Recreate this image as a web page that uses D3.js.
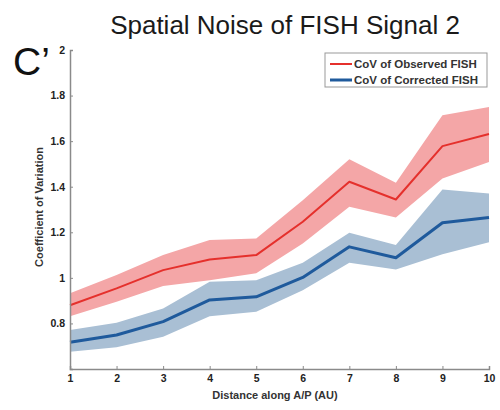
<!DOCTYPE html>
<html>
<head>
<meta charset="utf-8">
<script src="https://cdn.jsdelivr.net/npm/d3@7"></script>
<style>
  html, body { margin: 0; padding: 0; background: #fff; }
  svg { display: block; font-family: "Liberation Sans", Arial, sans-serif; }
</style>
</head>
<body>
<svg id="chart" width="500" height="410"></svg>
<script>
// Distance bins along the A/P axis
const distance = [1, 2, 3, 4, 5, 6, 7, 8, 9, 10];

// Coefficient of variation, observed FISH signal (mean and band limits)
const observedMean  = [0.88, 0.954, 1.034, 1.081, 1.10, 1.246, 1.422, 1.344, 1.578, 1.631];
const observedUpper = [0.932, 1.012, 1.10, 1.166, 1.173, 1.341, 1.521, 1.417, 1.714, 1.75];
const observedLower = [0.832, 0.895, 0.964, 0.99, 1.02, 1.151, 1.312, 1.265, 1.436, 1.509];

// Coefficient of variation, corrected FISH signal (mean and band limits)
const correctedMean  = [0.717, 0.749, 0.808, 0.903, 0.917, 1.002, 1.136, 1.088, 1.242, 1.265];
const correctedUpper = [0.771, 0.803, 0.866, 0.983, 0.99, 1.066, 1.198, 1.144, 1.388, 1.37];
const correctedLower = [0.676, 0.695, 0.742, 0.832, 0.851, 0.946, 1.066, 1.037, 1.104, 1.156];

const yTicks = [0.8, 1, 1.2, 1.4, 1.6, 1.8, 2];
const yTickLabels = ["0.8", "1", "1.2", "1.4", "1.6", "1.8", "2"];

const legendLabels = ["CoV of Observed FISH", "CoV of Corrected FISH"];

const svg = d3.select("#chart");

const x = d3.scaleLinear().domain([1, 10]).range([70, 489]);
const y = d3.scaleLinear().domain([0.6, 2]).range([369, 50]);

const series = [
  { mean: observedMean, upper: observedUpper, lower: observedLower,
    line: "#e5302c", band: "#f4a6a7", width: 2 },
  { mean: correctedMean, upper: correctedUpper, lower: correctedLower,
    line: "#1f5a9c", band: "#a9bfd4", width: 3 }
];

const area = d3.area()
  .x(d => x(d.x)).y0(d => y(d.lo)).y1(d => y(d.hi));
const line = d3.line().x(d => x(d.x)).y(d => y(d.v));

// shaded bands first, then the mean lines on top
series.forEach(s => {
  svg.append("path")
    .datum(distance.map((d, i) => ({ x: d, lo: s.lower[i], hi: s.upper[i] })))
    .attr("d", area)
    .attr("fill", s.band);
});
series.forEach(s => {
  svg.append("path")
    .datum(distance.map((d, i) => ({ x: d, v: s.mean[i] })))
    .attr("d", line)
    .attr("fill", "none")
    .attr("stroke", s.line)
    .attr("stroke-width", s.width)
    .attr("stroke-linejoin", "round");
});

// axes with inward ticks
const xAxis = d3.axisBottom(x).tickValues(distance).tickSize(-3).tickPadding(6)
  .tickFormat(d3.format("d"));
const gx = svg.append("g").attr("transform", "translate(0,369)").call(xAxis);

const yAxis = d3.axisLeft(y).tickValues(yTicks).tickSize(-3).tickPadding(5)
  .tickFormat((d, i) => yTickLabels[i]);
const gy = svg.append("g").attr("transform", "translate(70,0)").call(yAxis);

[gx, gy].forEach(g => {
  g.select(".domain").attr("stroke", "#8a8a8a").attr("stroke-width", 1.5);
  g.selectAll(".tick line").attr("stroke", "#8a8a8a");
  g.selectAll(".tick text")
    .attr("fill", "#222")
    .attr("font-size", 10.5)
    .attr("font-weight", "bold")
    .attr("font-family", "'Liberation Sans', Arial, sans-serif");
});

// titles and labels
svg.append("text")
  .attr("x", 285).attr("y", 34)
  .attr("text-anchor", "middle")
  .attr("font-size", 26)
  .attr("fill", "#1a1a1a")
  .text("Spatial Noise of FISH Signal 2");

svg.append("text")
  .attr("x", 13).attr("y", 75)
  .attr("font-size", 39)
  .attr("fill", "#111")
  .text("C\u2019");

svg.append("text")
  .attr("transform", "translate(43,207) rotate(-90)")
  .attr("text-anchor", "middle")
  .attr("font-size", 11)
  .attr("font-weight", "bold")
  .attr("fill", "#333")
  .text("Coefficient of Variation");

svg.append("text")
  .attr("x", 275).attr("y", 399)
  .attr("text-anchor", "middle")
  .attr("font-size", 11)
  .attr("font-weight", "bold")
  .attr("fill", "#333")
  .text("Distance along A/P (AU)");

// legend
const legend = svg.append("g");
legend.append("rect")
  .attr("x", 325).attr("y", 53).attr("width", 162).attr("height", 34)
  .attr("fill", "#fff").attr("stroke", "#999").attr("stroke-width", 1);
series.forEach((s, i) => {
  const ly = 64 + i * 16;
  legend.append("line")
    .attr("x1", 330).attr("x2", 352).attr("y1", ly).attr("y2", ly)
    .attr("stroke", s.line).attr("stroke-width", s.width);
  legend.append("text")
    .attr("x", 354).attr("y", ly + 4)
    .attr("font-size", 11.5)
    .attr("font-weight", "bold")
    .attr("fill", "#333")
    .text(legendLabels[i]);
});
</script>
</body>
</html>
